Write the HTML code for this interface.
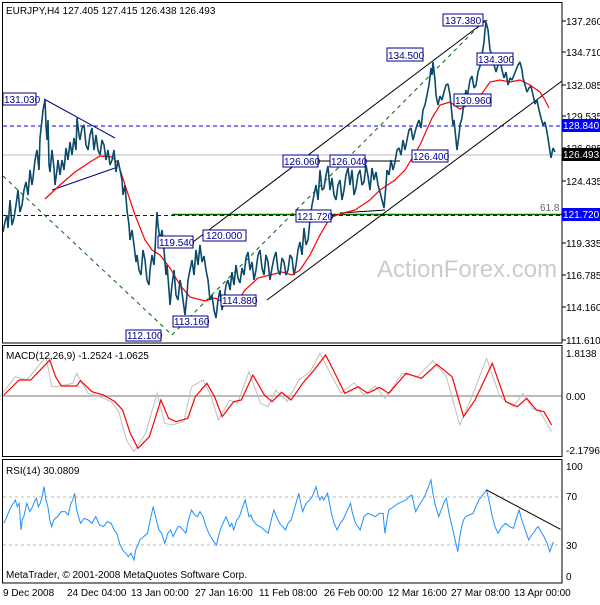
<!DOCTYPE html>
<html><head><meta charset="utf-8"><style>
body{margin:0;background:#fff}
svg text{font-family:"Liberation Sans","DejaVu Sans",sans-serif;font-size:10px}
</style></head><body>
<svg width="600" height="600" xmlns="http://www.w3.org/2000/svg">
<rect width="600" height="600" fill="#fff"/>
<text x="377" y="277" fill="#cccccc" style="font-size:24px">ActionForex.com</text>
<line x1="3" y1="126" x2="562" y2="126" stroke="#0000e0" stroke-dasharray="4,3"/>
<line x1="3" y1="155" x2="562" y2="155" stroke="#bbb"/>
<line x1="172" y1="214.5" x2="562" y2="214.5" stroke="#006400" stroke-width="1.5"/>
<line x1="3" y1="215.5" x2="562" y2="215.5" stroke="#0000e0" stroke-dasharray="4,3"/>
<text x="540" y="211" fill="#666">61.8</text>
<line x1="3" y1="176" x2="172" y2="335" stroke="#006400" stroke-dasharray="4,4"/>
<line x1="172" y1="335" x2="485" y2="20" stroke="#006400" stroke-dasharray="4,4"/>
<line x1="193" y1="242" x2="487" y2="20" stroke="#000"/>
<line x1="267" y1="300" x2="562" y2="81" stroke="#000"/>
<line x1="44" y1="99" x2="115" y2="138" stroke="#00008b"/>
<line x1="52" y1="190" x2="115" y2="168" stroke="#00008b"/>
<line x1="340" y1="213" x2="385" y2="210" stroke="#000"/>
<line x1="318" y1="161" x2="400" y2="161" stroke="#000"/>
<polyline fill="none" stroke="#f00" stroke-width="1.2" points="45,199 60,185 75,172 90,162 100,156 112,157 118,163 125,185 135,215 145,240 152,250 160,255 170,268 180,285 190,297 205,301 215,298 225,303 235,305 245,290 258,278 270,275 282,272 292,275 300,270 310,255 320,235 330,218 340,214 355,210 370,200 380,190 395,180 405,170 420,145 432,118 440,105 450,102 460,109 470,104 478,98 483,92 490,82 500,80 510,82 520,80 530,85 540,92 545,100 549,108"/>
<polyline fill="none" stroke="#0b4a6a" stroke-width="1.6" stroke-linejoin="bevel" points="3,232 5,222 7,215 8,228 10,200 12,225 14,218 16,205 18,190 20,212 22,205 24,190 26,182 28,195 30,170 32,185 33,178 35,160 37,150 39,170 40,138 42,120 43,110 45,100 46,125 47,140 48,120 49,165 50,172 52,150 54,168 55,185 57,170 58,160 60,175 62,160 64,170 66,148 68,160 70,142 72,155 74,138 76,150 77,118 79,135 80,140 82,128 84,125 86,145 88,150 90,135 92,128 94,150 96,135 98,150 100,155 102,140 104,145 106,160 108,150 110,165 112,160 114,150 116,172 118,160 120,170 122,180 123,195 125,185 127,210 129,225 130,240 132,230 134,245 136,262 137,255 139,270 141,275 143,250 145,260 147,280 149,285 150,270 152,255 154,265 155,250 156,230 157,212 158,225 160,240 162,230 164,250 166,275 167,265 169,290 170,305 172,285 174,270 176,295 178,300 180,280 181,285 183,300 185,315 187,295 188,280 190,270 192,260 194,275 196,250 198,265 200,245 202,262 204,256 206,270 208,280 210,300 212,295 214,310 216,318 218,300 220,290 222,310 224,300 226,285 228,280 230,290 232,272 234,285 236,265 238,278 240,283 242,268 244,275 246,258 248,252 250,270 252,262 254,280 256,270 258,255 260,250 262,268 264,275 266,255 268,262 270,280 272,268 274,258 276,252 278,270 280,275 282,258 284,262 286,275 288,270 290,255 292,258 294,275 296,265 298,250 300,242 302,255 304,228 306,245 308,240 310,220 312,205 314,195 316,185 318,200 320,170 322,190 324,188 326,175 328,166 330,190 332,178 334,195 336,200 338,185 340,180 342,200 344,190 346,175 348,168 350,185 352,170 354,195 356,188 358,175 360,170 362,185 364,182 366,165 368,176 370,190 372,168 374,180 376,172 378,185 380,192 382,200 384,208 386,185 387,170 389,175 391,160 393,170 395,162 397,150 399,148 401,155 403,140 405,150 407,140 409,130 411,128 413,140 415,132 417,125 419,120 421,128 423,110 425,105 427,95 429,85 431,68 432,75 433,62 435,80 436,95 438,105 440,96 442,100 444,92 446,85 448,84 450,95 451,105 453,125 454,120 456,140 457,150 459,135 460,125 462,118 463,110 465,95 466,90 467,100 468,92 470,80 472,76 474,88 476,85 478,72 480,66 482,55 484,42 485,30 486,22 488,30 489,40 490,50 492,55 494,65 496,72 498,65 500,60 502,70 504,78 506,72 508,85 510,78 512,80 514,75 516,70 518,65 520,62 522,70 523,78 525,85 527,92 529,88 531,86 533,95 535,104 537,100 539,110 541,118 543,125 545,122 547,132 549,145 551,158 553,148 555,152"/>
<g fill="#fff" stroke="#00008b">
<rect x="3" y="93" width="33" height="12"/><rect x="443" y="14" width="40" height="12"/>
<rect x="387" y="48" width="36" height="13"/><rect x="477" y="53" width="36" height="12"/>
<rect x="454" y="94" width="37" height="12"/><rect x="412" y="150" width="36" height="12"/>
<rect x="283" y="155" width="35" height="12"/><rect x="330" y="155" width="35" height="12"/>
<rect x="296" y="210" width="35" height="12"/><rect x="158" y="236" width="35" height="12"/>
<rect x="203" y="230" width="43" height="11"/><rect x="221" y="295" width="35" height="11"/>
<rect x="173" y="316" width="35" height="11"/><rect x="126" y="330" width="35" height="11"/>
</g>
<g fill="#00008b">
<text x="4" y="103">131.030</text><text x="445" y="24">137.380</text>
<text x="388" y="59">134.500</text><text x="478" y="63">134.300</text>
<text x="455" y="104">130.960</text><text x="413" y="160">126.400</text>
<text x="284" y="165">126.060</text><text x="331" y="165">126.040</text>
<text x="297" y="220">121.720</text><text x="159" y="246">119.540</text>
<text x="206" y="239">120.000</text><text x="222" y="304">114.880</text>
<text x="174" y="325">113.160</text><text x="127" y="339">112.100</text>
</g>
<text x="6" y="14" fill="#000">EURJPY,H4  127.405 127.415 126.438 126.493</text>
<line x1="3" y1="396" x2="562" y2="396" stroke="#bbb" stroke-width="2"/>
<g transform="translate(0,330) scale(0.3831,0.3333)">
<polyline fill="none" stroke="#c0c0c0" stroke-width="1" vector-effect="non-scaling-stroke" points="0,200 40,140 70,150 120,80 135,170 150,170 190,160 200,130 230,190 260,200 290,215 310,245 330,330 350,365 380,310 410,190 430,280 450,285 480,275 500,170 530,150 550,195 570,270 600,210 620,220 650,125 680,220 700,230 720,180 750,215 780,150 810,125 835,70 860,125 890,190 925,158 950,195 980,168 1005,205 1050,130 1090,140 1130,92 1165,140 1200,285 1230,205 1270,85 1305,200 1340,230 1365,190 1390,235 1410,245 1440,305"/>
<polyline fill="none" stroke="#f00" stroke-width="1.2" vector-effect="non-scaling-stroke" points="10,195 50,150 80,150 130,90 145,140 160,168 200,168 210,152 240,185 270,195 300,215 320,240 340,310 360,355 390,320 420,210 440,265 460,275 490,265 510,200 540,160 560,200 580,260 610,215 630,210 660,135 690,195 710,215 735,187 760,210 790,160 820,120 850,75 870,120 900,190 935,170 960,190 990,172 1015,190 1060,130 1100,145 1140,103 1180,140 1210,260 1240,210 1285,100 1320,215 1350,230 1375,205 1400,240 1420,245 1440,285"/>
</g>
<text x="6" y="359" fill="#000">MACD(12,26,9) -1.2524 -1.0625</text>
<line x1="3" y1="497" x2="562" y2="497" stroke="#bbb" stroke-dasharray="3,3"/>
<line x1="3" y1="545" x2="562" y2="545" stroke="#bbb" stroke-dasharray="3,3"/>
<g transform="translate(0,330) scale(0.3831,0.3333)">
<polyline fill="none" stroke="#1e90ff" stroke-width="1" vector-effect="non-scaling-stroke" points="10,580 18,560 25,540 32,525 40,510 45,530 50,520 55,600 58,570 62,560 66,540 70,520 78,545 85,530 90,515 95,505 100,530 105,520 110,500 115,470 120,510 125,530 130,570 135,590 140,570 145,565 150,560 160,545 170,545 178,555 185,520 190,510 195,490 200,540 205,560 210,580 220,565 230,570 240,580 250,560 260,585 270,590 280,575 290,580 298,600 305,610 312,640 320,660 328,670 335,680 342,670 350,690 354,660 358,650 362,640 365,630 375,620 385,610 392,570 400,530 408,570 415,600 422,610 430,640 438,610 445,600 452,620 460,600 465,590 470,590 478,600 485,610 492,570 500,540 508,555 515,560 522,545 530,560 538,590 545,610 555,630 565,645 570,620 575,600 582,580 590,560 595,575 600,590 605,580 610,600 618,570 625,560 632,535 640,510 645,535 650,560 655,555 660,570 670,585 680,590 690,600 700,610 708,570 715,540 722,560 730,580 738,590 745,600 752,580 760,570 770,530 780,490 785,520 790,545 795,530 800,520 808,510 815,500 820,485 825,470 830,495 835,510 840,500 845,510 850,500 855,490 860,520 865,550 872,580 880,600 888,580 895,570 905,545 915,520 920,550 928,580 934,590 940,600 945,580 950,560 955,555 960,550 970,555 980,560 990,550 1000,550 1003,590 1005,610 1010,570 1015,540 1028,530 1040,520 1050,515 1060,510 1068,500 1075,495 1080,520 1085,545 1092,530 1100,515 1108,500 1115,480 1120,465 1125,450 1130,490 1135,520 1140,540 1145,560 1150,545 1155,530 1160,515 1165,505 1172,550 1180,590 1188,630 1195,665 1200,620 1205,590 1210,570 1215,560 1225,555 1235,550 1242,530 1250,510 1260,495 1270,480 1278,520 1285,560 1292,590 1300,610 1310,590 1320,580 1330,590 1340,595 1348,565 1355,540 1362,570 1368,590 1374,610 1380,630 1388,615 1395,605 1400,595 1405,590 1412,605 1420,620 1428,640 1435,665 1440,650 1445,635"/>
<line x1="1270" y1="480" x2="1463" y2="598" stroke="#000" stroke-width="1" vector-effect="non-scaling-stroke"/>
</g>
<text x="6" y="474" fill="#000">RSI(14) 30.0809</text>
<text x="6" y="578" fill="#000">MetaTrader, © 2001-2008 MetaQuotes Software Corp.</text>
<g fill="none" stroke="#000">
<rect x="2.5" y="2.5" width="559.5" height="340.5"/>
<rect x="2.5" y="345.5" width="559.5" height="111"/>
<rect x="2.5" y="459.5" width="559.5" height="123.5"/>
</g>
<g stroke="#000">
<line x1="562" y1="21" x2="566" y2="21"/><line x1="562" y1="52" x2="566" y2="52"/><line x1="562" y1="85" x2="566" y2="85"/><line x1="562" y1="116" x2="566" y2="116"/><line x1="562" y1="148" x2="566" y2="148"/><line x1="562" y1="181" x2="566" y2="181"/><line x1="562" y1="243" x2="566" y2="243"/><line x1="562" y1="275" x2="566" y2="275"/><line x1="562" y1="307" x2="566" y2="307"/><line x1="562" y1="340" x2="566" y2="340"/>
</g>
<g fill="#000">
<text x="566" y="25">137.260</text><text x="566" y="56">134.710</text><text x="566" y="89">132.085</text><text x="566" y="120">129.535</text><text x="566" y="152">126.985</text><text x="566" y="185">124.435</text><text x="566" y="247">119.335</text><text x="566" y="279">116.785</text><text x="566" y="311">114.160</text><text x="566" y="344">111.610</text>
<text x="566" y="357">1.8138</text><text x="566" y="400">0.00</text><text x="566" y="454">-2.1796</text>
<text x="566" y="470">100</text><text x="566" y="500">70</text><text x="566" y="549">30</text><text x="566" y="580">0</text>
</g>
<rect x="562" y="119" width="38" height="13" fill="#0000ff"/><text x="563" y="129" fill="#fff">128.840</text>
<rect x="562" y="148" width="38" height="13" fill="#000"/><text x="563" y="158" fill="#fff">126.493</text>
<rect x="562" y="208" width="38" height="13" fill="#0000ff"/><text x="563" y="218" fill="#fff">121.720</text>
<g fill="#000">
<text x="3" y="596">9 Dec 2008</text><text x="67" y="596">24 Dec 04:00</text><text x="131" y="596">13 Jan 00:00</text><text x="195" y="596">27 Jan 16:00</text><text x="259" y="596">11 Feb 08:00</text><text x="324" y="596">26 Feb 00:00</text><text x="388" y="596">12 Mar 16:00</text><text x="451" y="596">27 Mar 08:00</text><text x="514" y="596">13 Apr 00:00</text>
</g>
</svg>
</body></html>
